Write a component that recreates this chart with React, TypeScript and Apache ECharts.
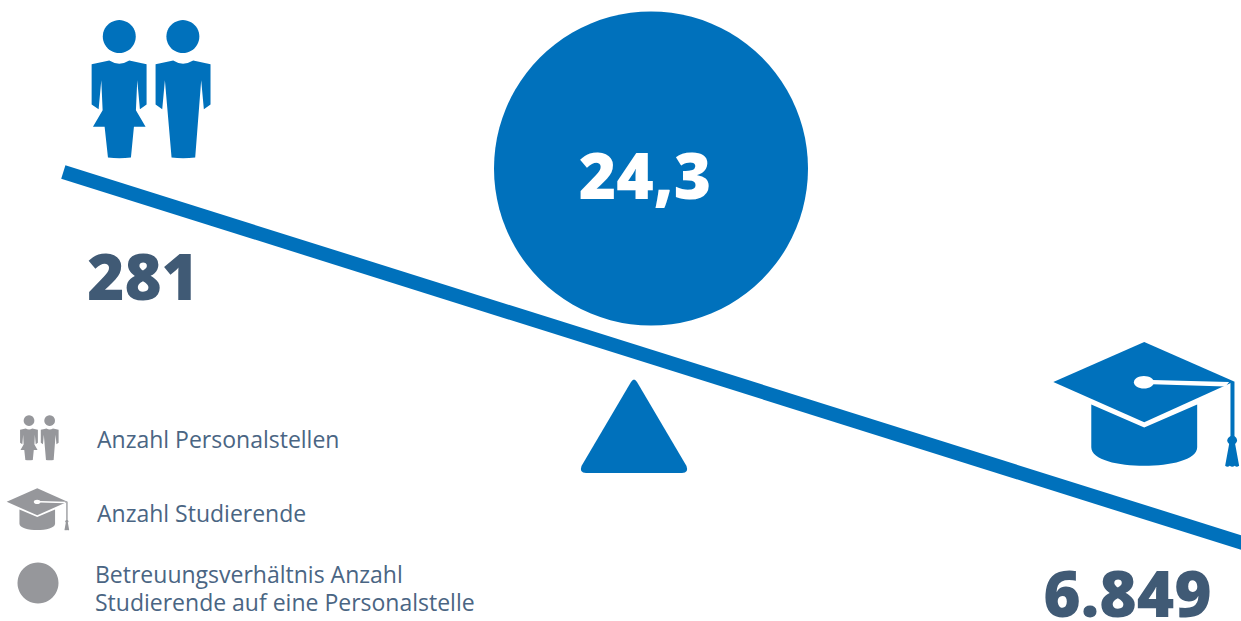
import React, { useEffect, useRef } from "react";
import * as echarts from "echarts";

// Headline figures
const staffCount = "281";
const studentCount = "6.849";
const ratio = "24,3";

// Legend entries, top to bottom
const legendLabels = ["Anzahl Personalstellen", "Anzahl Studierende"];
const ratioLegendLines = ["Betreuungsverhältnis Anzahl", "Studierende auf eine Personalstelle"];

const BLUE = "#0071BC";
const GREY = "#96979B";
const SLATE = "#405A75";
const LEGEND_TEXT = "#4A6583";
const FONT = '"Open Sans", sans-serif';

// Icon outlines, drawn in a 3x working grid
const womanBody =
  "M95 192 L148 181 Q178 200 208 181 L260 192 L260 313 L240 327 L232 240 L228 330 L257 380 L222 380 L213 472 Q178 477 144 472 L134 380 L99 380 L128 330 L124 240 L116 327 L95 313 Z";
const manBody =
  "M287 192 L340 181 Q369 200 400 181 L452 192 L452 313 L432 327 L424 240 L406 472 Q369 477 335 472 L315 240 L307 327 L287 313 Z";
const capBoard = "M40 156 L313 36 L583 155 L313 277 Z";
const capCrown = "M154 224 L313 293 L472 224 L472 352 C472 390 390 408 313 408 C236 408 154 390 154 352 Z";
const capCord =
  "M572 156 L584 155 L584 318 Q592 324 592 331 Q592 338 586 342 L598 408 Q590 414 585 408 Q577 414 570 408 Q563 414 556 408 L568 342 Q562 338 562 331 Q562 324 572 318 Z";
const capSliver = "M338 150 L568 156 L557 170 L338 163 Z";
const pivot = "M631 382 Q634 377 637 382 L686.5 466 Q689 473 682 473 L586 473 Q579 473 581.5 466 Z";

echarts.graphic.registerShape("womanBody", echarts.graphic.extendPath(womanBody, {}));
echarts.graphic.registerShape("manBody", echarts.graphic.extendPath(manBody, {}));
echarts.graphic.registerShape("capBoard", echarts.graphic.extendPath(capBoard, {}));
echarts.graphic.registerShape("capCrown", echarts.graphic.extendPath(capCrown, {}));
echarts.graphic.registerShape("capCord", echarts.graphic.extendPath(capCord, {}));
echarts.graphic.registerShape("capSliver", echarts.graphic.extendPath(capSliver, {}));
echarts.graphic.registerShape("pivot", echarts.graphic.extendPath(pivot, {}));

function peopleIcon(x: number, y: number, scale: number, fill: string) {
  return {
    type: "group",
    x,
    y,
    scaleX: scale,
    scaleY: scale,
    children: [
      { type: "circle", shape: { cx: 178, cy: 109, r: 49.5 }, style: { fill } },
      { type: "circle", shape: { cx: 369, cy: 109, r: 49.5 }, style: { fill } },
      { type: "womanBody", style: { fill } },
      { type: "manBody", style: { fill } },
    ],
  };
}

function capIcon(x: number, y: number, scale: number, fill: string) {
  return {
    type: "group",
    x,
    y,
    scaleX: scale,
    scaleY: scale,
    children: [
      { type: "capCrown", style: { fill } },
      { type: "capBoard", style: { fill } },
      { type: "capSliver", style: { fill: "#fff" } },
      { type: "ellipse", shape: { cx: 312, cy: 157, rx: 30, ry: 19 }, style: { fill: "#fff" } },
      { type: "capCord", style: { fill } },
    ],
  };
}

function label(text: string, x: number, y: number, size: number, weight: number, fill: string, align = "left") {
  return {
    type: "text",
    x,
    y,
    style: {
      text,
      fill,
      font: `${weight} ${size}px ${FONT}`,
      lineHeight: 28,
      textAlign: align,
      textVerticalAlign: "middle",
    },
  };
}

export default function App() {
  const ref = useRef<HTMLDivElement>(null);

  useEffect(() => {
    const chart = echarts.init(ref.current!, undefined, { renderer: "svg" });
    chart.setOption({
      animation: false,
      backgroundColor: "#fff",
      graphic: {
        elements: [
          { type: "line", shape: { x1: 63.3, y1: 172, x2: 1260, y2: 548.5 }, style: { stroke: BLUE, lineWidth: 14 } },
          { type: "circle", shape: { cx: 651, cy: 168.5, r: 157 }, style: { fill: BLUE } },
          { type: "pivot", style: { fill: BLUE } },
          peopleIcon(60, 0.3, 1 / 3, BLUE),
          capIcon(1040, 330, 1 / 3, BLUE),
          label(ratio, 645, 174.5, 64, 800, "#fff", "center"),
          label(staffCount, 143, 275, 63.5, 800, SLATE, "center"),
          label(studentCount, 1127.5, 592, 64, 800, SLATE, "center"),
          peopleIcon(9.8, 408.9, 0.108, GREY),
          capIcon(2.2, 484.3, 0.1123, GREY),
          { type: "circle", shape: { cx: 38, cy: 583, r: 20.5 }, style: { fill: GREY } },
          label(legendLabels[0], 97, 439, 23, 400, LEGEND_TEXT),
          label(legendLabels[1], 97, 513, 23, 400, LEGEND_TEXT),
          label(ratioLegendLines.join("\n"), 95, 588, 23, 400, LEGEND_TEXT),
        ],
      },
    });
    return () => chart.dispose();
  }, []);

  return <div ref={ref} style={{ position: "fixed", left: 0, top: 0, width: 1241, height: 621 }} />;
}
